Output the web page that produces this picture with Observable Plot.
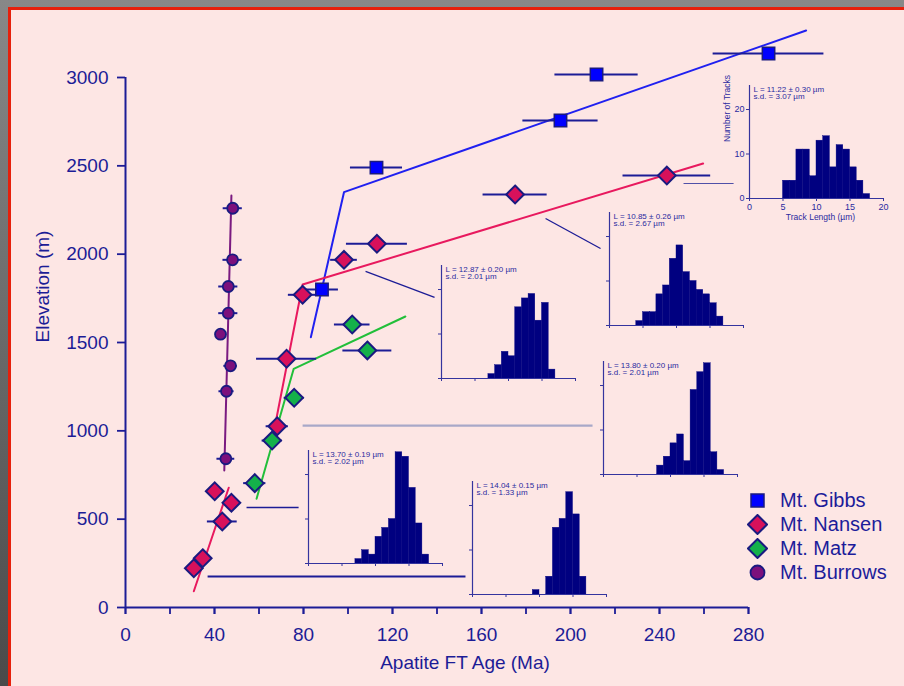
<!DOCTYPE html>
<html><head><meta charset="utf-8">
<script src="https://cdn.jsdelivr.net/npm/d3@7"></script>
<script src="https://cdn.jsdelivr.net/npm/@observablehq/plot@0.6"></script>
<style>
html,body{margin:0;padding:0;}
body{width:904px;height:686px;overflow:hidden;background:linear-gradient(to bottom,#888888,#4a4a4a);position:relative;font-family:"Liberation Sans",Arial,sans-serif;}
#panel{position:absolute;left:8px;top:7px;width:920px;height:700px;background:#fde6e4;border:3px solid #e6200c;box-sizing:border-box;}
#chart{position:absolute;left:0;top:0;}
.inset{position:absolute;}
#legend{position:absolute;left:747px;top:488px;color:#1c1c9a;font-size:20px;line-height:24px;}
.row{display:flex;align-items:center;height:24px;}
.row svg{margin-right:12px;display:block;}
</style></head><body>
<div id="panel"></div>
<div id="chart"></div>
<div id="insets"></div>
<div id="legend"></div>
<script>
// ---------- main axes ----------
const xTicks = [0,20,40,60,80,100,120,140,160,180,200,220,240,260,280];
const xLabeledTicks = [0,40,80,120,160,200,240,280];
const yTicks = [0,500,1000,1500,2000,2500,3000];
const xTitle = "Apatite FT Age (Ma)";
const yTitle = "Elevation (m)";

// ---------- series: Mt. Gibbs ----------
const gibbsAge  = [88.3, 112.8, 195.5, 211.7, 289];
const gibbsElev = [1800, 2490, 2757, 3017, 3136];
const gibbsErr  = [7.4, 11.7, 16.9, 18.7, 24.9];
const gibbsLineAge  = [83.3, 98.2, 305.9];
const gibbsLineElev = [1530, 2351, 3266];

// ---------- series: Mt. Nansen ----------
const nansenAge  = [30.7, 34.7, 43.5, 47.6, 40.1, 68.2, 72.4, 79.6, 98.2, 113.0, 175.1, 243.3];
const nansenElev = [222, 279, 487, 593, 658, 1026, 1408, 1770, 1968, 2059, 2338, 2445];
const nansenErr  = [2, 2, 6.7, 3, 2, 5, 13.5, 6.4, 6, 13.7, 14.4, 19.7];
const nansenLowLineAge  = [30.7, 46.4];
const nansenLowLineElev = [92, 678];
const nansenUpLineAge  = [65.9, 79.6, 259.6];
const nansenUpLineElev = [945, 1828, 2513];

// ---------- series: Mt. Matz ----------
const matzAge  = [58.1, 65.9, 75.8, 101.9, 108.7];
const matzElev = [704, 945, 1187, 1602, 1455];
const matzErr  = [5, 4.5, 4.5, 8, 11];
const matzLineAge  = [58.9, 75.6, 125.8];
const matzLineElev = [615, 1351, 1647];

// ---------- series: Mt. Burrows ----------
const burrowsAge  = [48.2, 48.1, 46.2, 46.2, 42.7, 47.2, 45.4, 45.1];
const burrowsElev = [2260, 1968, 1817, 1666, 1547, 1368, 1224, 842];
const burrowsErr  = [4.3, 4.3, 4.3, 4.3, 0, 3, 3.4, 4];
const burrowsLineAge  = [47.6, 44.4];
const burrowsLineElev = [2332, 775];

// ---------- leader lines (data units) ----------
const leaderAge1  = [250.8, 188.8, 107.9, 79.6, 54.4, 36.9];
const leaderElev1 = [2400, 2202, 1902, 1030, 566, 175];
const leaderAge2  = [273.3, 213.5, 138.9, 209.9, 77.8, 152.8];
const leaderElev2 = [2400, 2032, 1755, 1030, 566, 175];

// ---------- legend ----------
const seriesNames = ["Mt. Gibbs", "Mt. Nansen", "Mt. Matz", "Mt. Burrows"];

// ---------- track-length histograms ----------
const histStart  = [5, 4, 7, 8, 7, 9];
const histCounts = [
  [4,4,11,11,5,13,14,7,12,11,7,4,1],
  [1,3,3,7,9,15,18,12,10,8,7,5,2],
  [1,3,6,5,16,18,19,13,17,2],
  [2,4,7,9,3,19,23,25,5,1],
  [1,3,2,6,8,10,25,24,17,9,2],
  [1,0,4,15,17,23,18,4]
];
const histMean = ["L = 11.22 ± 0.30 µm","L = 10.85 ± 0.26 µm","L = 12.87 ± 0.20 µm","L = 13.80 ± 0.20 µm","L = 13.70 ± 0.19 µm","L = 14.04 ± 0.15 µm"];
const histSD   = ["s.d. = 3.07 µm","s.d. = 2.67 µm","s.d. = 2.01 µm","s.d. = 2.01 µm","s.d. = 2.02 µm","s.d. = 1.33 µm"];
const histXTicks = [0,5,10,15,20];
const histYTicks = [0,10,20];
const histXTitle = "Track Length (µm)";
const histYTitle = "Number of Tracks";

// ---------- styling / layout (not data) ----------
const navy = "#1c1c96";
const markStroke = "#1a1a80";
const colors = {gibbs:"#0000ff", nansen:"#d8115b", matz:"#14b14a", burrows:"#7c107c"};
const lineColors = {gibbs:"#2020f0", nansen:"#e8195e", matz:"#22bf3a", burrows:"#7a1a80"};
const leaderStroke = ["#5050a8", navy, navy, "#a8a8c8", navy, navy];
const leaderWidth = [1.2, 1.3, 1.3, 2.2, 1.5, 2];
// inset origin (pixel position of x=0,y=0 of each histogram)
const insetOrigin = [[749,197.7],[609,325],[441,377.7],[602.7,474],[307.7,563.3],[472.3,594.3]];

const zip = (a, b, c) => a.map((v, i) => ({age: v, elev: b[i], err: c ? c[i] : 0}));
const gibbs = zip(gibbsAge, gibbsElev, gibbsErr);
const nansen = zip(nansenAge, nansenElev, nansenErr);
const matz = zip(matzAge, matzElev, matzErr);
const burrows = zip(burrowsAge, burrowsElev, burrowsErr);
const leaders = leaderAge1.map((v, i) => ({x1: v, y1: leaderElev1[i], x2: leaderAge2[i], y2: leaderElev2[i], s: leaderStroke[i], w: leaderWidth[i]}));

const lineMark = (ages, elevs, color) => Plot.line(zip(ages, elevs), {x: "age", y: "elev", stroke: color, strokeWidth: 2});
const errMark = (data) => Plot.ruleY(data.filter(d => d.err > 0), {y: "elev", x1: d => d.age - d.err, x2: d => d.age + d.err, stroke: navy, strokeWidth: 2});

const main = Plot.plot({
  width: 904, height: 686,
  marginLeft: 125, marginRight: 156, marginTop: 77, marginBottom: 79,
  x: {domain: [0, 280]},
  y: {domain: [0, 3000]},
  style: {background: "transparent", color: navy, fontFamily: "Liberation Sans, Arial, sans-serif", fontSize: "19px", overflow: "visible"},
  marks: [
    Plot.link(leaders, {x1: "x1", y1: "y1", x2: "x2", y2: "y2", stroke: d => d.s, strokeWidth: d => d.w}),
    Plot.axisY(yTicks, {tickSize: 8, tickPadding: 9, strokeWidth: 1.8, label: null, fontSize: 19, tickFormat: d => String(d)}),
    Plot.axisX(xTicks, {tickSize: 7, tickPadding: 0, strokeWidth: 1.8, label: null, tickFormat: () => ""}),
    Plot.axisX(xLabeledTicks, {tickSize: 7, tickPadding: 13, strokeWidth: 1.8, label: null, fontSize: 19, tickFormat: d => String(d)}),
    Plot.ruleX([0], {y1: 0, y2: 3000, stroke: navy, strokeWidth: 2}),
    Plot.ruleY([0], {x1: 0, x2: 280, stroke: navy, strokeWidth: 2}),
    Plot.text([xTitle], {text: d => d, frameAnchor: "bottom", lineAnchor: "middle", dx: 28, dy: 55, fontSize: 19}),
    Plot.text([yTitle], {text: d => d, frameAnchor: "left", lineAnchor: "middle", rotate: -90, dx: -83, fontSize: 19}),
    lineMark(gibbsLineAge, gibbsLineElev, lineColors.gibbs),
    lineMark(nansenLowLineAge, nansenLowLineElev, lineColors.nansen),
    lineMark(nansenUpLineAge, nansenUpLineElev, lineColors.nansen),
    lineMark(matzLineAge, matzLineElev, lineColors.matz),
    lineMark(burrowsLineAge, burrowsLineElev, lineColors.burrows),
    errMark(gibbs), errMark(nansen), errMark(matz), errMark(burrows),
    Plot.dot(burrows, {x: "age", y: "elev", r: 5.5, symbol: "circle", fill: colors.burrows, stroke: markStroke, strokeWidth: 1.8}),
    Plot.dot(matz, {x: "age", y: "elev", r: 8, symbol: "diamond2", fill: colors.matz, stroke: markStroke, strokeWidth: 2}),
    Plot.dot(nansen, {x: "age", y: "elev", r: 8, symbol: "diamond2", fill: colors.nansen, stroke: markStroke, strokeWidth: 2}),
    Plot.dot(gibbs, {x: "age", y: "elev", r: 7, symbol: "square", fill: colors.gibbs, stroke: markStroke, strokeWidth: 1.5})
  ]
});
document.getElementById("chart").appendChild(main);

// ---------- insets ----------
const IW = 134, IH = 113, ML = 30, MR = 6, MT = 2, MB = 26;
const insetNavy = "#34349e";
histCounts.forEach((counts, k) => {
  const bins = counts.map((c, i) => ({x1: histStart[k] + i, x2: histStart[k] + i + 1, n: c}));
  const labeled = k === 0;
  const marks = [
    Plot.rectY(bins, {x1: "x1", x2: "x2", y: "n", fill: "#000080", stroke: "#000080", strokeWidth: 0.4, insetLeft: 0, insetRight: 0}),
    Plot.ruleX([0], {stroke: insetNavy, strokeWidth: 1.2}),
    Plot.ruleY([0], {x1: 0, x2: 20, stroke: insetNavy, strokeWidth: 1.2}),
    Plot.axisX(histXTicks, {tickSize: 3, tickPadding: 2, stroke: insetNavy, label: null, fontSize: 9, tickFormat: labeled ? d => String(d) : () => ""}),
    Plot.axisY(histYTicks, {tickSize: 3, tickPadding: 2, stroke: insetNavy, label: null, fontSize: 9, tickFormat: labeled ? d => String(d) : () => ""}),
    Plot.text([histMean[k] + "\n" + histSD[k]], {text: d => d, frameAnchor: "top-left", lineAnchor: "top", dx: 4, dy: 1, fontSize: 8, lineHeight: 0.95})
  ];
  if (labeled) {
    marks.push(Plot.text([histXTitle], {text: d => d, frameAnchor: "bottom", lineAnchor: "middle", dx: 4, dy: 18.5, fontSize: 8.5}));
    marks.push(Plot.text([histYTitle], {text: d => d, frameAnchor: "left", lineAnchor: "middle", rotate: -90, dx: -22, fontSize: 8.5}));
  }
  const p = Plot.plot({
    width: ML + IW + MR, height: MT + IH + MB,
    marginLeft: ML, marginRight: MR, marginTop: MT, marginBottom: MB,
    x: {domain: [0, 20]}, y: {domain: [0, 25.4]},
    style: {background: "transparent", color: "#2a2aa0", fontFamily: "Liberation Sans, Arial, sans-serif", overflow: "visible"},
    marks
  });
  const div = document.createElement("div");
  div.className = "inset";
  div.style.left = (insetOrigin[k][0] - ML) + "px";
  div.style.top = (insetOrigin[k][1] - IH - MT) + "px";
  div.appendChild(p);
  document.getElementById("insets").appendChild(div);
});

// ---------- legend ----------
const swatch = {
  "Mt. Gibbs": `<rect x="4" y="4" width="13" height="13" fill="${colors.gibbs}" stroke="${markStroke}" stroke-width="1.5"/>`,
  "Mt. Nansen": `<path d="M10.5 1 L20 10.5 L10.5 20 L1 10.5Z" fill="${colors.nansen}" stroke="${markStroke}" stroke-width="2"/>`,
  "Mt. Matz": `<path d="M10.5 1 L20 10.5 L10.5 20 L1 10.5Z" fill="${colors.matz}" stroke="${markStroke}" stroke-width="2"/>`,
  "Mt. Burrows": `<circle cx="10.5" cy="10.5" r="7" fill="${colors.burrows}" stroke="${markStroke}" stroke-width="1.8"/>`
};
const lg = document.getElementById("legend");
seriesNames.forEach(name => {
  const row = document.createElement("div");
  row.className = "row";
  row.innerHTML = `<svg width="21" height="21">${swatch[name]}</svg><span>${name}</span>`;
  lg.appendChild(row);
});
</script>
</body></html>
